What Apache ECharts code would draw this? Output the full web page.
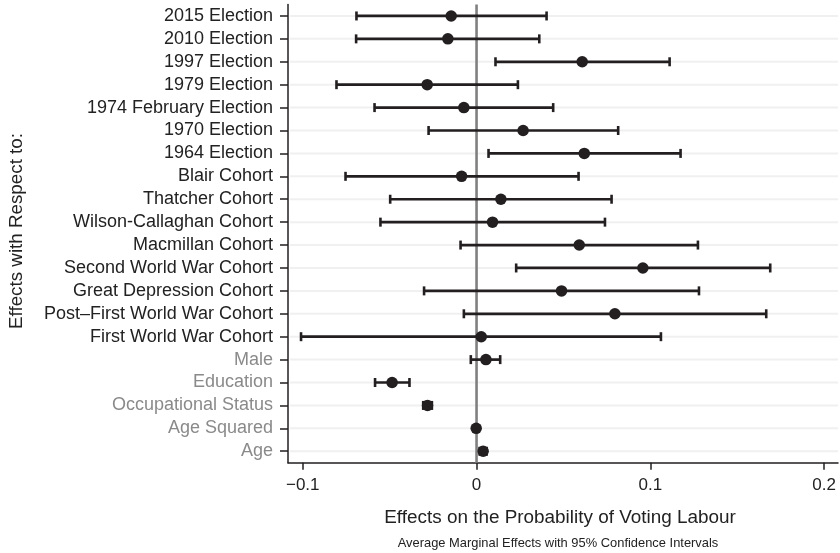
<!DOCTYPE html>
<html>
<head>
<meta charset="utf-8">
<script src="https://cdn.jsdelivr.net/npm/echarts@6/dist/echarts.min.js"></script>
<style>
html,body{margin:0;padding:0;background:#fff;}
#chart{width:840px;height:553px;}
</style>
</head>
<body>
<div id="chart"></div>
<script>
// Categories (top to bottom)
const categories = ['2015 Election','2010 Election','1997 Election','1979 Election','1974 February Election','1970 Election','1964 Election','Blair Cohort','Thatcher Cohort','Wilson-Callaghan Cohort','Macmillan Cohort','Second World War Cohort','Great Depression Cohort','Post\u2013First World War Cohort','First World War Cohort','Male','Education','Occupational Status','Age Squared','Age'];
const estimates = [-0.0146,-0.0165,0.0608,-0.0284,-0.0073,0.0268,0.0620,-0.0086,0.0140,0.0092,0.0591,0.0957,0.0489,0.0796,0.0027,0.0054,-0.0486,-0.0282,-0.0002,0.0038];
const lower = [-0.0691,-0.0693,0.0109,-0.0806,-0.0587,-0.0276,0.0069,-0.0754,-0.0497,-0.0553,-0.0092,0.0228,-0.0302,-0.0073,-0.1010,-0.0033,-0.0584,-0.0307,-0.0004,0.0018];
const upper = [0.0403,0.0361,0.1111,0.0238,0.0441,0.0815,0.1174,0.0587,0.0777,0.0739,0.1274,0.1690,0.1280,0.1667,0.1061,0.0136,-0.0386,-0.0257,0.0000,0.0058];
const greyLabels = ['Male','Education','Occupational Status','Age Squared','Age'];
const xTickValues = [-0.1, 0, 0.1, 0.2];
const xTickLabels = ['\u22120.1', '0', '0.1', '0.2'];
const xMin = -0.1085, xMax = 0.208;

const FONT = '"Liberation Sans", Arial, Helvetica, sans-serif';
const INK = '#231f20';

const chart = echarts.init(document.getElementById('chart'), null, {renderer: 'canvas'});

const ciData = categories.map((c, i) => [lower[i], upper[i], i]);
const ptData = categories.map((c, i) => [estimates[i], i]);
const gridData = categories.map((c, i) => [i]);

const option = {
  animation: false,
  backgroundColor: '#ffffff',
  grid: {left: 288, right: 2, top: 4.5, bottom: 90.3, containLabel: false},
  xAxis: {
    type: 'value', min: xMin, max: xMax,
    axisLine: {show: true, onZero: false, lineStyle: {color: INK, width: 1.5}},
    axisTick: {show: true, length: 7, lineStyle: {color: INK, width: 1.5}, customValues: xTickValues},
    axisLabel: {
      show: true, customValues: xTickValues, margin: 14,
      fontFamily: FONT, fontSize: 17, color: '#222',
      formatter: function (v) {
        const k = xTickValues.findIndex(t => Math.abs(t - v) < 1e-9);
        return k >= 0 ? xTickLabels[k] : '';
      }
    },
    splitLine: {show: false}
  },
  yAxis: {
    type: 'category', data: categories, inverse: true, boundaryGap: true,
    axisLine: {show: true, onZero: false, lineStyle: {color: INK, width: 1.5}},
    axisTick: {show: true, interval: 0, alignWithLabel: true, length: 8, lineStyle: {color: INK, width: 1.5}},
    axisLabel: {
      show: true, interval: 0, margin: 15, fontFamily: FONT, fontSize: 18,
      color: function (value) { return greyLabels.indexOf(value) >= 0 ? '#8a8a8a' : '#222'; }
    },
    splitLine: {show: false}
  },
  graphic: [
    {type: 'text', x: 560, y: 518, style: {text: 'Effects on the Probability of Voting Labour', font: '18.9px ' + FONT, fill: '#222', textAlign: 'center', textVerticalAlign: 'middle'}},
    {type: 'text', x: 558, y: 543, style: {text: 'Average Marginal Effects with 95% Confidence Intervals', font: '12.9px ' + FONT, fill: '#222', textAlign: 'center', textVerticalAlign: 'middle'}},
    {type: 'text', x: 17, y: 231, rotation: Math.PI / 2, style: {text: 'Effects with Respect to:', font: '18.8px ' + FONT, fill: '#222', textAlign: 'center', textVerticalAlign: 'middle'}}
  ],
  series: [
    {
      type: 'custom', name: 'grid', silent: true, z: 1,
      data: gridData,
      encode: {y: 0},
      renderItem: function (params, api) {
        const idx = api.value(0);
        const a = api.coord([xMin, idx]);
        const b = api.coord([xMax, idx]);
        return {type: 'line', shape: {x1: a[0] + 2, y1: a[1], x2: b[0], y2: b[1]}, style: {stroke: '#f0f0f0', lineWidth: 2}};
      }
    },
    {
      type: 'custom', name: 'zero', silent: true, z: 2, data: [[0]],
      encode: {x: 0},
      renderItem: function (params, api) {
        const cs = params.coordSys;
        const x = api.coord([0, 0])[0];
        return {type: 'line', shape: {x1: x, y1: cs.y, x2: x, y2: cs.y + cs.height}, style: {stroke: '#808080', lineWidth: 2.6}};
      }
    },
    {
      type: 'custom', name: 'ci', silent: true, z: 3,
      data: ciData,
      encode: {x: [0, 1], y: 2},
      renderItem: function (params, api) {
        const idx = api.value(2);
        const a = api.coord([api.value(0), idx]);
        const b = api.coord([api.value(1), idx]);
        const h = 4.5;
        return {
          type: 'group',
          children: [
            {type: 'line', shape: {x1: a[0], y1: a[1], x2: b[0], y2: b[1]}, style: {stroke: INK, lineWidth: 2.7}},
            {type: 'line', shape: {x1: a[0], y1: a[1] - h, x2: a[0], y2: a[1] + h}, style: {stroke: INK, lineWidth: 2.6}},
            {type: 'line', shape: {x1: b[0], y1: b[1] - h, x2: b[0], y2: b[1] + h}, style: {stroke: INK, lineWidth: 2.6}}
          ]
        };
      }
    },
    {
      type: 'scatter', name: 'est', z: 4, silent: true,
      data: ptData, symbol: 'circle', symbolSize: 11.5,
      itemStyle: {color: INK, opacity: 1}
    }
  ]
};
chart.setOption(option);
</script>
</body>
</html>
